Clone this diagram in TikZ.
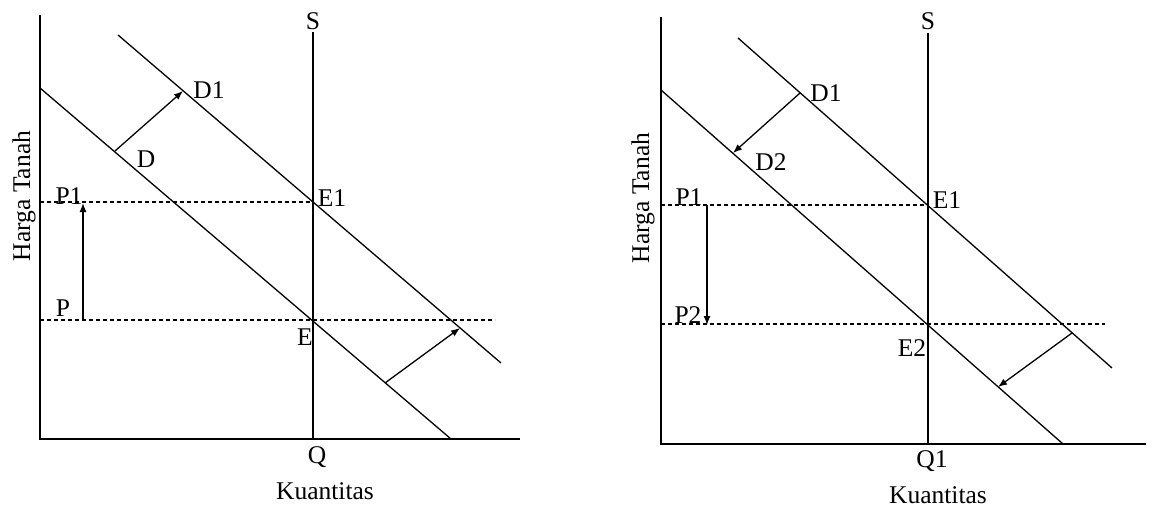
\documentclass[tikz,border=0pt]{standalone}
\usepackage{fontspec}
\setmainfont{Liberation Serif}
\usetikzlibrary{arrows.meta}
\begin{document}
\begin{tikzpicture}[x=1pt,y=-1pt,
  lbl/.style={font=\fontsize{25.5}{28}\selectfont, inner sep=0pt},
  axisline/.style={line width=1.4pt},
  curve/.style={line width=1.3pt},
  guide/.style={line width=1.1pt, dash pattern=on 4pt off 3pt},
  shiftarrow/.style={line width=1.3pt, -{Latex[length=9pt,width=7pt]}}]
\useasboundingbox (0,0) rectangle (1157,508);
% ---------- left panel ----------
\coordinate (LO) at (40,439);
\coordinate (LYt) at (40,15);
\coordinate (LXr) at (520,439);
\coordinate (LSt) at (313,32);
\coordinate (LSb) at (313,439);
\coordinate (LDa) at (40,88);
\coordinate (LDb) at (451,439);
\coordinate (LD1a) at (118,35);
\coordinate (LD1b) at (501,363);
\coordinate (LE) at (313,320);
\coordinate (LE1) at (313,202);
\coordinate (LPa) at (40,320);
\coordinate (LPb) at (495,320);
\coordinate (LP1a) at (40,202);
\coordinate (LA1s) at (83,320);
\coordinate (LA1e) at (83,203);
\coordinate (LA2s) at (115,151);
\coordinate (LA2e) at (183,91);
\coordinate (LA3s) at (385,383);
\coordinate (LA3e) at (460,328);
\draw[axisline] (LYt) -- (LO) -- (LXr);
\draw[axisline] (LSt) -- (LSb);
\draw[curve] (LDa) -- (LDb);
\draw[curve] (LD1a) -- (LD1b);
\draw[guide] (LPa) -- (LPb);
\draw[guide] (LP1a) -- (LE1);
\draw[shiftarrow] (LA1s) -- (LA1e);
\draw[shiftarrow] (LA2s) -- (LA2e);
\draw[shiftarrow] (LA3s) -- (LA3e);
\node[lbl] (lS) at (313,21) {S};
\node[lbl] (lD1) at (209,90) {D1};
\node[lbl] (lD) at (146,159) {D};
\node[lbl] (lP1) at (69,196) {P1};
\node[lbl] (lE1) at (332,198) {E1};
\node[lbl] (lP) at (63,308) {P};
\node[lbl] (lE) at (305,337) {E};
\node[lbl] (lQ) at (317,457) {Q};
\node[lbl] (lK) at (325,491) {Kuantitas};
\node[lbl, rotate=90] (lH) at (24,196) {Harga Tanah};
% ---------- right panel ----------
\coordinate (RO) at (661,444);
\coordinate (RYt) at (661,17);
\coordinate (RXr) at (1146,444);
\coordinate (RSt) at (928,33);
\coordinate (RSb) at (928,444);
\coordinate (RDa) at (661,90);
\coordinate (RDb) at (1063,444);
\coordinate (RD1a) at (738,38);
\coordinate (RD1b) at (1112,368);
\coordinate (RE1) at (928,205);
\coordinate (RP1a) at (661,205);
\coordinate (RP2a) at (661,324);
\coordinate (RP2b) at (1105,324);
\coordinate (RA1s) at (707,205);
\coordinate (RA1e) at (707,325);
\coordinate (RA2s) at (800,93);
\coordinate (RA2e) at (733,153);
\coordinate (RA3s) at (1072,333);
\coordinate (RA3e) at (998,387);
\draw[axisline] (RYt) -- (RO) -- (RXr);
\draw[axisline] (RSt) -- (RSb);
\draw[curve] (RDa) -- (RDb);
\draw[curve] (RD1a) -- (RD1b);
\draw[guide] (RP1a) -- (RE1);
\draw[guide] (RP2a) -- (RP2b);
\draw[shiftarrow] (RA1s) -- (RA1e);
\draw[shiftarrow] (RA2s) -- (RA2e);
\draw[shiftarrow] (RA3s) -- (RA3e);
\node[lbl] (rS) at (928,21) {S};
\node[lbl] (rD1) at (826,93) {D1};
\node[lbl] (rD2) at (771,162) {D2};
\node[lbl] (rP1) at (689,197) {P1};
\node[lbl] (rE1) at (947,200) {E1};
\node[lbl] (rP2) at (688,315) {P2};
\node[lbl] (rE2) at (912,348) {E2};
\node[lbl] (rQ1) at (932,461) {Q1};
\node[lbl] (rK) at (938,495) {Kuantitas};
\node[lbl, rotate=90] (rH) at (643,198) {Harga Tanah};
\end{tikzpicture}
\end{document}
